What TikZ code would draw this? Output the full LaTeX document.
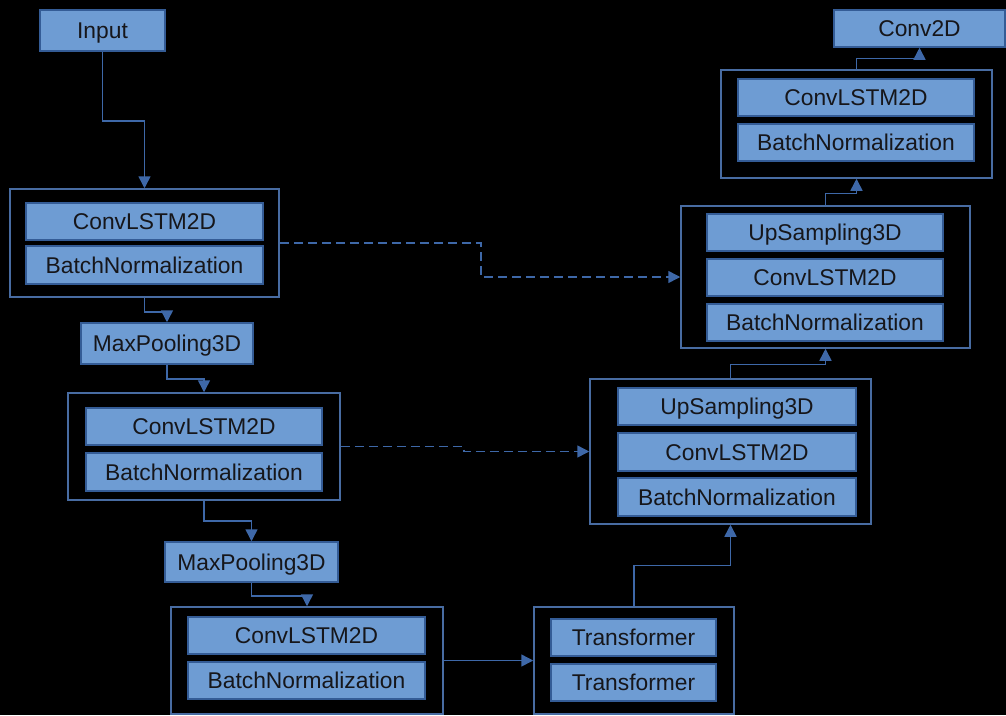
\documentclass[tikz,border=0pt]{standalone}
\usepackage{fontspec}
\setmainfont{Liberation Sans}
\usetikzlibrary{arrows.meta}
\definecolor{bfill}{RGB}{110,156,211}
\definecolor{bline}{RGB}{52,92,150}
\definecolor{oline}{RGB}{72,108,162}
\definecolor{cline}{RGB}{62,104,168}
\definecolor{txt}{RGB}{22,22,26}
\tikzset{
  layer/.style={draw=bline, line width=1.5pt, fill=bfill, inner sep=0pt, text=txt,
    text height=16.3pt, text depth=0pt,
    font=\fontsize{22.8}{26}\selectfont},
  group/.style={draw=oline, line width=1.5pt, inner sep=0pt},
  conn/.style={draw=cline, line width=1.5pt, -{Triangle[length=12pt,width=12pt]}},
  skip/.style={conn, dash pattern=on 9pt off 5pt}
}
\begin{document}
\begin{tikzpicture}[x=1pt,y=-1pt]
\fill[black] (0,0) rectangle (1006,715);
\useasboundingbox (0,0) rectangle (1006,715);
% encoder
\node[layer, minimum width=125pt, minimum height=41pt] (input) at (102.5,30.5) {Input};
\node[group, minimum width=269pt, minimum height=108pt] (b1) at (144.5,243) {};
\node[layer, minimum width=237pt, minimum height=37pt] (b1c) at (144.5,221.5) {ConvLSTM2D};
\node[layer, minimum width=237pt, minimum height=38pt] (b1n) at (144.5,265) {BatchNormalization};
\node[layer, minimum width=172pt, minimum height=41pt] (mp1) at (167,343.5) {MaxPooling3D};
\node[group, minimum width=272pt, minimum height=107pt] (b2) at (204,446.5) {};
\node[layer, minimum width=236pt, minimum height=37pt] (b2c) at (204,426.5) {ConvLSTM2D};
\node[layer, minimum width=236pt, minimum height=38pt] (b2n) at (204,472) {BatchNormalization};
\node[layer, minimum width=173pt, minimum height=40pt] (mp2) at (251.5,562) {MaxPooling3D};
\node[group, minimum width=272pt, minimum height=107pt] (b3) at (307,660.5) {};
\node[layer, minimum width=237pt, minimum height=37pt] (b3c) at (306.5,635.5) {ConvLSTM2D};
\node[layer, minimum width=237pt, minimum height=37pt] (b3n) at (306.5,680.5) {BatchNormalization};
% bottleneck
\node[group, minimum width=200pt, minimum height=107pt] (tr) at (634,660.5) {};
\node[layer, minimum width=165pt, minimum height=37pt] (t1) at (633.5,637.5) {Transformer};
\node[layer, minimum width=165pt, minimum height=37pt] (t2) at (633.5,682.5) {Transformer};
% decoder
\node[group, minimum width=281pt, minimum height=145pt] (b4) at (730.5,451.5) {};
\node[layer, minimum width=238pt, minimum height=37pt] (b4u) at (737,406.5) {UpSampling3D};
\node[layer, minimum width=238pt, minimum height=38pt] (b4c) at (737,452) {ConvLSTM2D};
\node[layer, minimum width=238pt, minimum height=38pt] (b4n) at (737,497) {BatchNormalization};
\node[group, minimum width=289pt, minimum height=142pt] (b6) at (825.5,277) {};
\node[layer, minimum width=236pt, minimum height=37pt] (b6u) at (825,232.5) {UpSampling3D};
\node[layer, minimum width=236pt, minimum height=37pt] (b6c) at (825,277.5) {ConvLSTM2D};
\node[layer, minimum width=236pt, minimum height=37pt] (b6n) at (825,322.5) {BatchNormalization};
\node[group, minimum width=271pt, minimum height=108pt] (b5) at (856.5,124) {};
\node[layer, minimum width=236pt, minimum height=37pt] (b5c) at (856,97.5) {ConvLSTM2D};
\node[layer, minimum width=236pt, minimum height=37pt] (b5n) at (856,142.5) {BatchNormalization};
\node[layer, minimum width=171pt, minimum height=37pt] (conv) at (919.5,28.5) {Conv2D};
% connectors
\draw[conn] (input.south) -- ++(0,69) -| (b1.north);
\draw[conn] (b1.south) -- ++(0,14) -| (mp1.north);
\draw[conn] (mp1.south) -- ++(0,14) -| (b2.north);
\draw[conn] (b2.south) -- ++(0,20) -| (mp2.north);
\draw[conn] (mp2.south) -- ++(0,13) -| (b3.north);
\draw[conn] (b3.east) -- (tr.west);
\draw[conn] (tr.north) -- ++(0,-41) -| (b4.south);
\draw[conn] (b4.north) -- ++(0,-14) -| (b6.south);
\draw[conn] (b6.north) -- ++(0,-12) -| (b5.south);
\draw[conn] (b5.north) -- ++(0,-11) -| (conv.south);
\draw[skip] (b1.east) -- ++(201,0) |- (b6.west);
\draw[skip] (b2.east) -- ++(123,0) |- (b4.west);
\end{tikzpicture}
\end{document}
